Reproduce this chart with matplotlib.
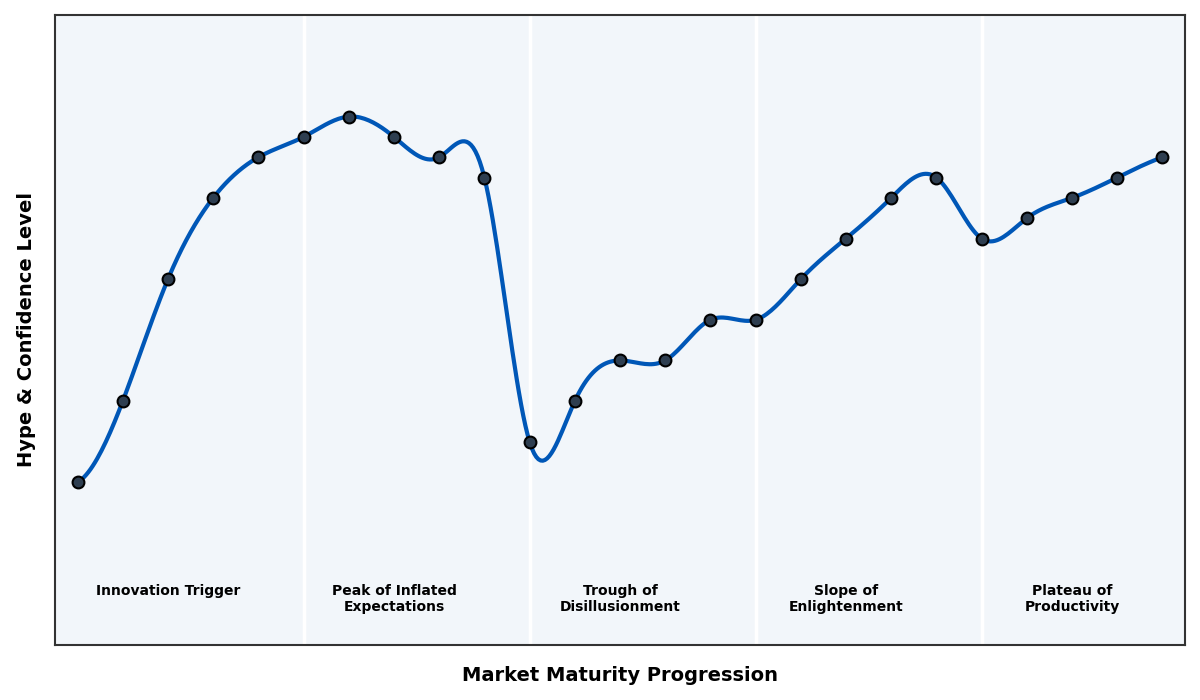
import matplotlib
matplotlib.use("Agg")
import matplotlib.pyplot as plt
import numpy as np

# hype cycle data
stage = np.arange(25)
hype = np.array([10, 14, 20, 24, 26, 27, 28, 27, 26, 25,
                 12, 14, 16, 16, 18, 18, 20, 22, 24, 25,
                 22, 23, 24, 25, 26], dtype=float)
phase_names = ["Innovation Trigger", "Peak of Inflated\nExpectations",
               "Trough of\nDisillusionment", "Slope of\nEnlightenment",
               "Plateau of\nProductivity"]
phase_bounds = [5, 10, 15, 20]
phase_centers = [2, 7, 12, 17, 22]


def notaknot_spline(x, y, xs):
    # cubic spline, not-a-knot ends, uniform spacing
    n = len(x)
    h = x[1] - x[0]
    A = np.zeros((n, n))
    b = np.zeros(n)
    A[0, 0:3] = [1, -2, 1]
    A[-1, -3:] = [1, -2, 1]
    for i in range(1, n - 1):
        A[i, i - 1:i + 2] = [1, 4, 1]
        b[i] = 6 * (y[i + 1] - 2 * y[i] + y[i - 1]) / h**2
    M = np.linalg.solve(A, b)
    idx = np.clip(((xs - x[0]) // h).astype(int), 0, n - 2)
    t = (xs - x[idx]) / h
    return (M[idx] * (1 - t)**3 * h**2 / 6 + M[idx + 1] * t**3 * h**2 / 6
            + (y[idx] - M[idx] * h**2 / 6) * (1 - t)
            + (y[idx + 1] - M[idx + 1] * h**2 / 6) * t)


xs = np.linspace(stage.min(), stage.max(), 500)
ys = notaknot_spline(stage.astype(float), hype, xs)

fig = plt.figure(figsize=(12, 7), dpi=100)
ax = fig.add_axes([0.0458, 0.0786, 0.9417, 0.9])
ax.set_facecolor("#f2f6fa")

for b in phase_bounds:
    ax.axvline(b, color="white", lw=2.5, zorder=1)

ax.plot(xs, ys, color="#0057b7", lw=3, zorder=2)
ax.plot(stage, hype, "o", color="#2e3e50", markeredgecolor="black",
        markeredgewidth=1.5, markersize=8.5, zorder=3)

for c, name in zip(phase_centers, phase_names):
    ax.text(c, 5, name, ha="center", va="top", fontsize=10,
            fontweight="bold")

ax.set_xlim(-0.5, 24.5)
ax.set_ylim(2, 33)
ax.set_xticks([])
ax.set_yticks([])
for s in ax.spines.values():
    s.set_color("#333333")
    s.set_linewidth(1.5)

ax.set_xlabel("Market Maturity Progression", fontsize=14, fontweight="bold", labelpad=15)
ax.set_ylabel("Hype & Confidence Level", fontsize=14, fontweight="bold", labelpad=14)

plt.savefig("out.png", dpi=100)
